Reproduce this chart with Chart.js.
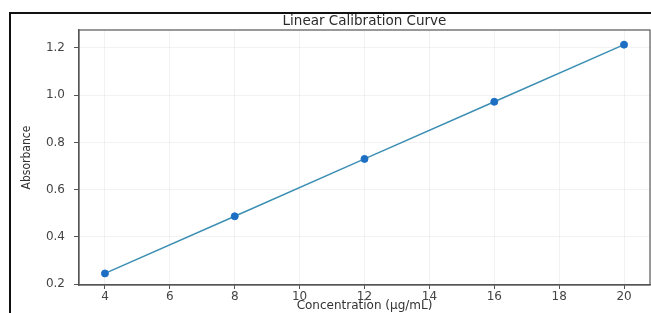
<!DOCTYPE html>
<html>
<head>
<meta charset="utf-8">
<script src="https://cdn.jsdelivr.net/npm/chart.js@4"></script>
<style>
    html, body { margin: 0; padding: 0; background: #fff; }
    #wrap { position: relative; width: 651px; height: 313px; overflow: hidden; }
    #frame {
        position: absolute; left: 9px; top: 12px; width: 660px; height: 320px;
        border-top: 2px solid #111; border-left: 2px solid #111;
        pointer-events: none;
    }
</style>
</head>
<body>
<div id="wrap">
    <canvas id="chart"></canvas>
    <div id="frame"></div>
</div>
<script>
// ── Data ─────────────────────────────────────────────────
const concentrations = [4, 8, 12, 16, 20];
const absorbance = [0.245, 0.487, 0.730, 0.972, 1.214];
const xTicks = [4, 6, 8, 10, 12, 14, 16, 18, 20];
const yTicks = [0.2, 0.4, 0.6, 0.8, 1.0, 1.2];

const chartTitle = 'Linear Calibration Curve';
const xTitle = 'Concentration (\u00b5g/mL)';
const yTitle = 'Absorbance';

const tickFont = { family: 'DejaVu Sans', size: 12 };
const tickColor = '#444';
const gridColor = 'rgba(0,0,0,0.05)';
const spineColor = '#555';

// title centred on the plot area + spines all round
const framePlugin = {
    id: 'framePlugin',
    afterDraw(chart) {
        const { ctx, chartArea: a } = chart;
        ctx.save();
        ctx.strokeStyle = spineColor;
        ctx.lineWidth = 1.2;
        ctx.strokeRect(a.left, a.top, a.right - a.left, a.bottom - a.top);
        ctx.fillStyle = '#2b2b2b';
        ctx.font = '13.5px "DejaVu Sans"';
        ctx.textAlign = 'center';
        ctx.textBaseline = 'middle';
        ctx.fillText(chartTitle, (a.left + a.right) / 2, 21);
        ctx.restore();
    }
};

new Chart(document.getElementById('chart'), {
    type: 'line',
    data: {
        datasets: [{
            data: concentrations.map((x, i) => ({ x, y: absorbance[i] })),
            borderColor: '#3b8fb3',
            borderWidth: 1.5,
            pointBackgroundColor: '#1d6fc4',
            pointBorderColor: '#1d6fc4',
            pointRadius: 3.5,
            pointBorderWidth: 1,
            tension: 0,
        }],
    },
    options: {
        responsive: true,
        maintainAspectRatio: false,
        animation: false,
        layout: { autoPadding: false, padding: { top: 30, right: 1, bottom: 0, left: 10 } },
        plugins: {
            legend: { display: false },
            title: { display: false },
            tooltip: { enabled: false },
        },
        scales: {
            x: {
                type: 'linear',
                min: 3.2,
                max: 20.8,
                afterBuildTicks: s => { s.ticks = xTicks.map(v => ({ value: v })); },
                afterFit: s => { s.height = 28; },
                ticks: { font: tickFont, color: tickColor, padding: 1, maxRotation: 0 },
                grid: { color: gridColor, tickColor: spineColor, tickLength: 4 },
                border: { color: spineColor, width: 1.2 },
                title: {
                    display: true, text: xTitle, color: '#333',
                    font: { family: 'DejaVu Sans', size: 12 }, padding: 0,
                },
            },
            y: {
                type: 'linear',
                min: 0.196,
                max: 1.276,
                afterBuildTicks: s => { s.ticks = yTicks.map(v => ({ value: v })); },
                afterFit: s => { s.width = 69; },
                ticks: { font: tickFont, color: tickColor, padding: 9, callback: v => v.toFixed(1) },
                grid: { color: gridColor, tickColor: spineColor, tickLength: 5 },
                border: { color: spineColor, width: 1.2 },
                title: {
                    display: true, text: yTitle, color: '#333',
                    font: { family: '"DejaVu Sans Condensed", "Liberation Sans"', size: 12 },
                    padding: { top: 10, bottom: 0 },
                },
            },
        },
    },
    plugins: [framePlugin],
});
</script>
</body>
</html>
